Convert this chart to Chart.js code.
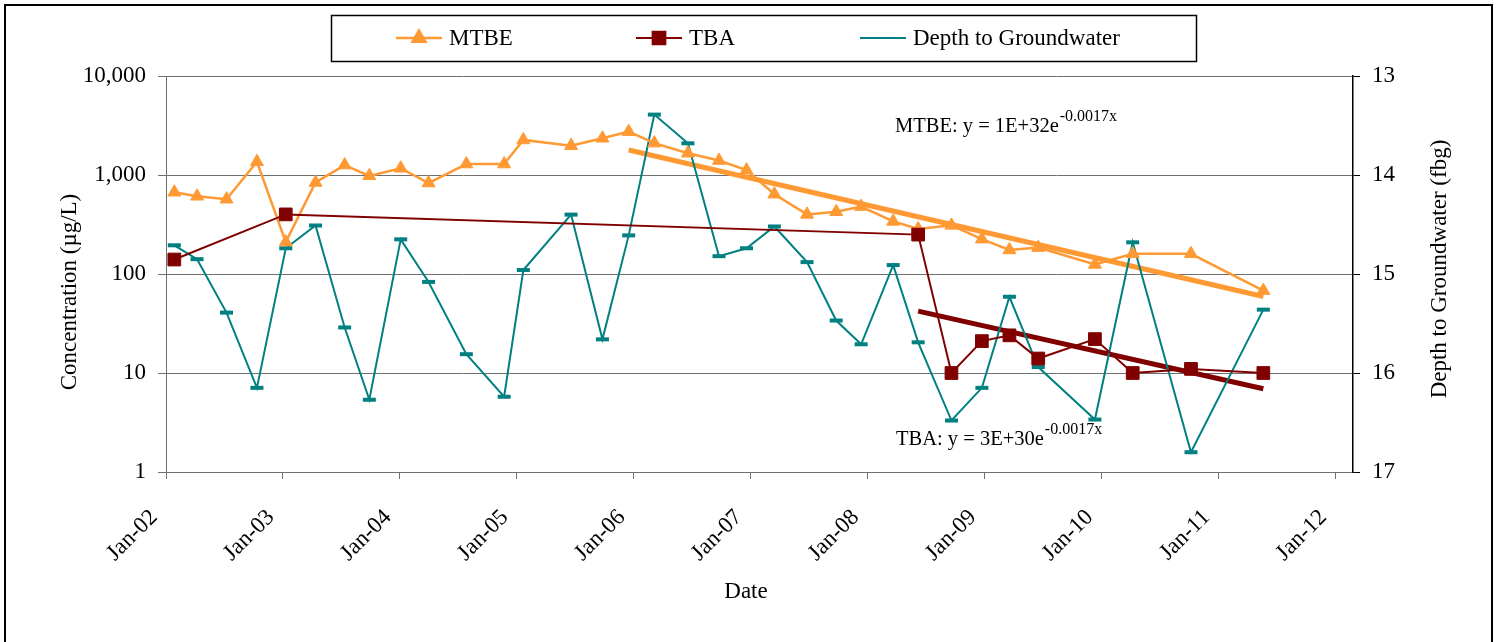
<!DOCTYPE html>
<html>
<head>
<meta charset="utf-8">
<title>MTBE, TBA and Depth to Groundwater</title>
<script src="https://cdn.jsdelivr.net/npm/chart.js@4.4.1/dist/chart.umd.min.js"></script>
<style>
  html, body { margin: 0; padding: 0; background: #fff; }
  #wrap { width: 1498px; height: 642px; }
</style>
</head>
<body>
<div id="wrap"><canvas id="chart" width="1498" height="642"></canvas></div>
<script>
// sampling dates (shared by all three series)
const sampleDates = [
  "2002-01-27", "2002-04-08", "2002-07-09", "2002-10-12", "2003-01-10", "2003-04-13",
  "2003-07-13", "2003-09-28", "2004-01-04", "2004-03-31", "2004-07-27", "2004-11-22",
  "2005-01-21", "2005-06-19", "2005-09-25", "2005-12-16", "2006-03-06", "2006-06-19",
  "2006-09-24", "2006-12-19", "2007-03-16", "2007-06-26", "2007-09-25", "2007-12-12",
  "2008-03-21", "2008-06-07", "2008-09-19", "2008-12-23", "2009-03-19", "2009-06-17",
  "2009-12-11", "2010-04-08", "2010-10-07", "2011-05-21"
];
// concentrations in ug/L
const mtbeValues = [
  670, 610, 570, 1360, 210, 840, 1260, 980, 1170, 830, 1290, 1290,
  2260, 1980, 2350, 2740, 2100, 1660, 1400, 1120, 640, 400, 425, 480,
  340, 285, 310, 225, 175, 185, 125, 160, 160, 68
];
const tbaValues = [
  140, null, null, null, 400, null, null, null, null, null, null, null,
  null, null, null, null, null, null, null, null, null, null, null, null,
  null, 250, 10, 21, 24, 14, 22, 10, 11, 10
];
// depth to groundwater, feet below grade
const depthValues = [
  14.71, 14.85, 15.39, 16.15, 14.74, 14.51, 15.54, 16.27, 14.65, 15.08, 15.81, 16.24,
  14.96, 14.40, 15.66, 14.61, 13.39, 13.68, 14.82, 14.74, 14.52, 14.88, 15.47, 15.71,
  14.91, 15.69, 16.48, 16.15, 15.23, 15.94, 16.47, 14.68, 16.80, 15.36
];

const concTicks = [1, 10, 100, 1000, 10000];
const depthTicks = [13, 14, 15, 16, 17];
const yearTicks = [
  "2002-01-01", "2003-01-01", "2004-01-01", "2005-01-01", "2006-01-01", "2007-01-01",
  "2008-01-01", "2009-01-01", "2010-01-01", "2011-01-01", "2012-01-01"
];
const yearLabels = [
  "Jan-02", "Jan-03", "Jan-04", "Jan-05", "Jan-06", "Jan-07",
  "Jan-08", "Jan-09", "Jan-10", "Jan-11", "Jan-12"
];
const axisStart = "2002-01-01";
const axisEnd = "2012-02-25";

// exponential trendlines fitted from these dates on
const mtbeFitFrom = "2005-12-16";
const tbaFitFrom = "2008-06-07";
const mtbeEquation = ["MTBE: y = 1E+32e", "-0.0017x"];
const tbaEquation = ["TBA: y = 3E+30e", "-0.0017x"];

const MTBE_COLOR = "#FF9933";
const TBA_COLOR = "#800000";
const DEPTH_COLOR = "#008080";
const GRID_COLOR = "#707070";
const FONT = "'Liberation Serif', serif";

function dayNum(s) {
  const [y, m, d] = s.split("-").map(Number);
  return Date.UTC(y, m - 1, d) / 86400000;
}

function toPoints(values) {
  const pts = [];
  values.forEach((v, i) => {
    if (v !== null) pts.push({ x: dayNum(sampleDates[i]), y: v });
  });
  return pts;
}

// least squares fit of ln(y) on x, like an Excel exponential trendline
function expTrend(points, fromDate) {
  const start = dayNum(fromDate);
  const pts = points.filter((p) => p.x >= start);
  const n = pts.length;
  const mx = pts.reduce((a, p) => a + p.x, 0) / n;
  const my = pts.reduce((a, p) => a + Math.log(p.y), 0) / n;
  let sxy = 0, sxx = 0;
  pts.forEach((p) => {
    sxy += (p.x - mx) * (Math.log(p.y) - my);
    sxx += (p.x - mx) * (p.x - mx);
  });
  const b = sxy / sxx;
  const a = my - b * mx;
  const x0 = pts[0].x, x1 = pts[n - 1].x;
  return [
    { x: x0, y: Math.exp(a + b * x0) },
    { x: x1, y: Math.exp(a + b * x1) },
  ];
}

const mtbePoints = toPoints(mtbeValues);
const tbaPoints = toPoints(tbaValues);
const depthPoints = toPoints(depthValues);

Chart.defaults.font.family = FONT;
Chart.defaults.font.size = 23;
Chart.defaults.color = "#000";

// frame, legend, axis titles and trendline equations
const overlay = {
  id: "overlay",
  afterDraw(chart) {
    const ctx = chart.ctx;
    ctx.save();
    ctx.strokeStyle = "#000";
    ctx.lineWidth = 2;
    ctx.strokeRect(5, 5, 1487, 700);

    // legend
    ctx.lineWidth = 1.5;
    ctx.strokeRect(331.5, 15.5, 865, 46);
    const legendItems = [
      { ds: 1, x: 396, text: "MTBE" },
      { ds: 0, x: 636, text: "TBA" },
      { ds: 2, x: 860, text: "Depth to Groundwater" },
    ];
    const ly = 38;
    legendItems.forEach((item) => {
      const ds = chart.data.datasets[item.ds];
      ctx.strokeStyle = ds.borderColor;
      ctx.lineWidth = ds.borderWidth;
      ctx.beginPath();
      ctx.moveTo(item.x, ly);
      ctx.lineTo(item.x + 46, ly);
      ctx.stroke();
      ctx.fillStyle = ds.pointBackgroundColor;
      ctx.strokeStyle = ds.pointBorderColor;
      Chart.helpers.drawPoint(ctx, {
        pointStyle: ds.pointStyle,
        radius: ds.pointRadius,
        rotation: 0,
        borderWidth: ds.pointBorderWidth,
      }, item.x + 23, ly);
      ctx.fillStyle = "#000";
      ctx.font = "23px " + FONT;
      ctx.textAlign = "left";
      ctx.textBaseline = "middle";
      ctx.fillText(item.text, item.x + 53, ly + 1);
    });

    // axis titles
    ctx.fillStyle = "#000";
    ctx.font = "23px " + FONT;
    ctx.textAlign = "center";
    ctx.textBaseline = "middle";
    ctx.fillText("Date", 746, 592);
    ctx.save();
    ctx.translate(70, 292);
    ctx.rotate(-Math.PI / 2);
    ctx.fillText("Concentration (µg/L)", 0, 0);
    ctx.restore();
    ctx.save();
    ctx.translate(1440, 269);
    ctx.rotate(-Math.PI / 2);
    ctx.fillText("Depth to Groundwater (fbg)", 0, 0);
    ctx.restore();

    // trendline equations
    const drawEq = (eq, x, y) => {
      ctx.textAlign = "left";
      ctx.textBaseline = "alphabetic";
      ctx.font = "20.5px " + FONT;
      ctx.fillText(eq[0], x, y);
      const w = ctx.measureText(eq[0]).width;
      ctx.font = "16px " + FONT;
      ctx.fillText(eq[1], x + w + 1, y - 11);
    };
    drawEq(mtbeEquation, 895, 132);
    drawEq(tbaEquation, 896, 445);
    ctx.restore();
  },
};

new Chart(document.getElementById("chart"), {
  type: "line",
  data: {
    datasets: [
      {
        label: "TBA",
        data: tbaPoints,
        yAxisID: "y",
        borderColor: TBA_COLOR,
        borderWidth: 2,
        pointStyle: "rect",
        pointRadius: 9,
        pointBackgroundColor: TBA_COLOR,
        pointBorderColor: TBA_COLOR,
        pointBorderWidth: 1,
        tension: 0,
        order: 0,
      },
      {
        label: "MTBE",
        data: mtbePoints,
        yAxisID: "y",
        borderColor: MTBE_COLOR,
        borderWidth: 2.5,
        pointStyle: "triangle",
        pointRadius: 7.5,
        pointBackgroundColor: MTBE_COLOR,
        pointBorderColor: MTBE_COLOR,
        pointBorderWidth: 1,
        tension: 0,
        order: 1,
      },
      {
        label: "Depth to Groundwater",
        data: depthPoints,
        yAxisID: "y1",
        borderColor: DEPTH_COLOR,
        borderWidth: 2,
        pointStyle: "line",
        pointRadius: 6.5,
        pointBackgroundColor: DEPTH_COLOR,
        pointBorderColor: DEPTH_COLOR,
        pointBorderWidth: 4,
        tension: 0,
        order: 2,
      },
      {
        label: "MTBE trend",
        data: expTrend(mtbePoints, mtbeFitFrom),
        yAxisID: "y",
        borderColor: MTBE_COLOR,
        borderWidth: 5,
        pointRadius: 0,
        order: 3,
      },
      {
        label: "TBA trend",
        data: expTrend(tbaPoints, tbaFitFrom),
        yAxisID: "y",
        borderColor: TBA_COLOR,
        borderWidth: 5,
        pointRadius: 0,
        order: 3,
      },
    ],
  },
  options: {
    responsive: false,
    animation: false,
    devicePixelRatio: 1,
    events: [],
    layout: { padding: { top: 76, left: 0, right: 0, bottom: 0 } },
    plugins: {
      legend: { display: false },
      tooltip: { enabled: false },
    },
    scales: {
      x: {
        type: "linear",
        min: dayNum(axisStart),
        max: dayNum(axisEnd),
        afterBuildTicks: (scale) => {
          scale.ticks = yearTicks.map((d) => ({ value: dayNum(d) }));
        },
        afterFit: (scale) => {
          scale.height = 170;
        },
        ticks: {
          callback: (value, index) => yearLabels[index],
          minRotation: 45,
          maxRotation: 45,
          autoSkip: false,
          padding: 25,
          labelOffset: -12,
        },
        grid: {
          drawOnChartArea: false,
          drawTicks: true,
          tickLength: 7,
          color: GRID_COLOR,
        },
        border: { color: GRID_COLOR, width: 1 },
      },
      y: {
        type: "logarithmic",
        position: "left",
        min: 1,
        max: 10000,
        afterBuildTicks: (scale) => {
          scale.ticks = concTicks.map((v) => ({ value: v }));
        },
        afterFit: (scale) => {
          scale.width = 166;
        },
        ticks: {
          callback: (value) => Number(value).toLocaleString("en-US"),
          padding: 12,
        },
        grid: { color: GRID_COLOR, tickLength: 8, lineWidth: 1 },
        border: { color: GRID_COLOR, width: 1 },
      },
      y1: {
        type: "linear",
        position: "right",
        reverse: true,
        min: 13,
        max: 17,
        afterBuildTicks: (scale) => {
          scale.ticks = depthTicks.map((v) => ({ value: v }));
        },
        afterFit: (scale) => {
          scale.width = 145;
        },
        ticks: { padding: 12 },
        grid: { drawOnChartArea: false, color: "#000", tickLength: 7 },
        border: { color: "#000", width: 1.5 },
      },
    },
  },
  plugins: [overlay],
});
</script>
</body>
</html>
